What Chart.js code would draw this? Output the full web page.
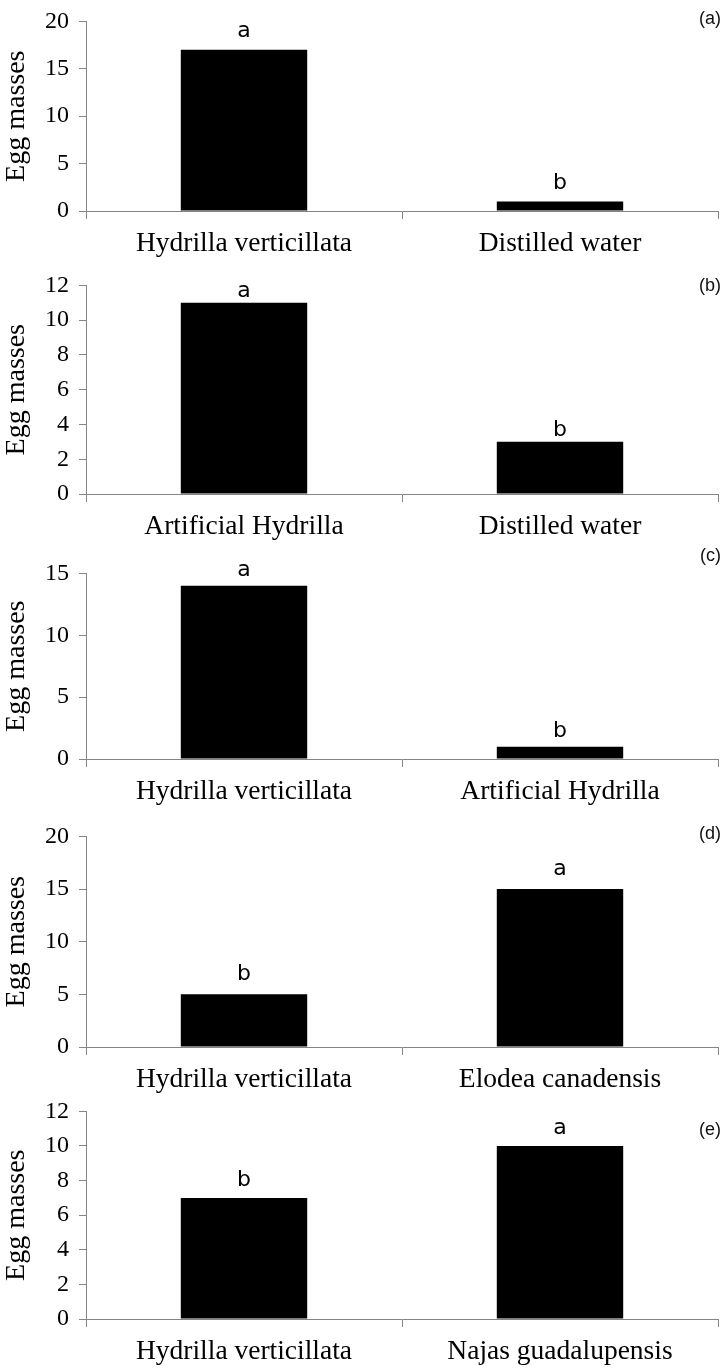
<!DOCTYPE html>
<html>
<head>
<meta charset="utf-8">
<title>Egg masses</title>
<script src="https://cdn.jsdelivr.net/npm/chart.js@4.4.1/dist/chart.umd.min.js"></script>
<style>
  body { margin: 0; background: #fff; }
  #wrap { position: relative; width: 725px; height: 1369px; overflow: hidden; }
  .panel { position: absolute; left: 0; }
  .tag { position: absolute; right: 4px; font: 18px "Liberation Sans", Arial, sans-serif; color: #111; line-height: 20px; }
</style>
</head>
<body>
<div id="wrap"></div>
<script>
/* ===== Data, one set per panel ===== */

const panelTags = ['(a)', '(b)', '(c)', '(d)', '(e)'];

const categoriesA = ['Hydrilla verticillata', 'Distilled water'];
const valuesA = [17, 1];
const lettersA = ['a', 'b'];

const categoriesB = ['Artificial Hydrilla', 'Distilled water'];
const valuesB = [11, 3];
const lettersB = ['a', 'b'];

const categoriesC = ['Hydrilla verticillata', 'Artificial Hydrilla'];
const valuesC = [14, 1];
const lettersC = ['a', 'b'];

const categoriesD = ['Hydrilla verticillata', 'Elodea canadensis'];
const valuesD = [5, 15];
const lettersD = ['b', 'a'];

const categoriesE = ['Hydrilla verticillata', 'Najas guadalupensis'];
const valuesE = [7, 10];
const lettersE = ['b', 'a'];

const yMaxes = [20, 12, 15, 20, 12];
const ySteps = [5, 2, 5, 5, 2];

/* ===== Layout (page pixels) ===== */

const plotTops = [17, 281, 569, 832, 1107];
const plotBottoms = [211, 494, 759, 1047, 1319];
const tagCenters = [18, 285, 555, 833, 1129];
const letterGaps = [13, 6, 10, 14, 12];

const PAD_TOP = 20;
const X_AXIS_H = 50;
const Y_AXIS_W = 86;
const AXIS_COLOR = '#858585';
const SERIF = '"Liberation Serif", "Times New Roman", serif';

const panels = [
  { categories: categoriesA, values: valuesA, letters: lettersA },
  { categories: categoriesB, values: valuesB, letters: lettersB },
  { categories: categoriesC, values: valuesC, letters: lettersC },
  { categories: categoriesD, values: valuesD, letters: lettersD },
  { categories: categoriesE, values: valuesE, letters: lettersE }
];

// draws the significance letters above each bar
const barLetters = {
  id: 'barLetters',
  afterDatasetsDraw(chart, args, opts) {
    const ctx = chart.ctx;
    const meta = chart.getDatasetMeta(0);
    ctx.save();
    ctx.font = '22px "DejaVu Sans", Verdana, sans-serif';
    ctx.fillStyle = '#000';
    ctx.textAlign = 'center';
    ctx.textBaseline = 'alphabetic';
    meta.data.forEach((bar, i) => {
      ctx.fillText(opts.letters[i], bar.x, bar.y - opts.gap);
    });
    ctx.restore();
  }
};

const wrap = document.getElementById('wrap');

panels.forEach((p, i) => {
  const plotH = plotBottoms[i] - plotTops[i];
  const div = document.createElement('div');
  div.className = 'panel';
  div.style.top = (plotTops[i] - PAD_TOP) + 'px';
  const canvas = document.createElement('canvas');
  canvas.width = 725;
  canvas.height = plotH + PAD_TOP + X_AXIS_H;
  div.appendChild(canvas);
  wrap.appendChild(div);

  const tag = document.createElement('div');
  tag.className = 'tag';
  tag.style.top = (tagCenters[i] - 10) + 'px';
  tag.textContent = panelTags[i];
  wrap.appendChild(tag);

  new Chart(canvas.getContext('2d'), {
    type: 'bar',
    data: {
      labels: p.categories,
      datasets: [{
        data: p.values,
        backgroundColor: '#000',
        borderWidth: 0,
        barPercentage: 0.4,
        categoryPercentage: 1.0
      }]
    },
    options: {
      responsive: false,
      animation: false,
      events: [],
      layout: { padding: { top: PAD_TOP, right: 7, left: 0, bottom: 0 } },
      plugins: {
        legend: { display: false },
        tooltip: { enabled: false },
        barLetters: { letters: p.letters, gap: letterGaps[i] }
      },
      scales: {
        x: {
          offset: true,
          grid: { offset: true, drawOnChartArea: false, drawTicks: true, tickLength: 8, color: AXIS_COLOR },
          border: { color: AXIS_COLOR, width: 1 },
          ticks: { color: '#000', padding: 8, maxRotation: 0, font: { family: SERIF, size: 27.5 } },
          afterFit: s => { s.height = X_AXIS_H; }
        },
        y: {
          min: 0,
          max: yMaxes[i],
          grid: { drawOnChartArea: false, drawTicks: true, tickLength: 7, color: AXIS_COLOR },
          border: { color: AXIS_COLOR, width: 1 },
          ticks: { stepSize: ySteps[i], color: '#000', padding: 10, font: { family: SERIF, size: 24 } },
          title: {
            display: true,
            text: 'Egg masses',
            color: '#000',
            padding: { top: 0, bottom: 0 },
            font: { family: SERIF, size: 28 }
          },
          afterFit: s => { s.width = Y_AXIS_W; }
        }
      }
    },
    plugins: [barLetters]
  });
});
</script>
</body>
</html>
